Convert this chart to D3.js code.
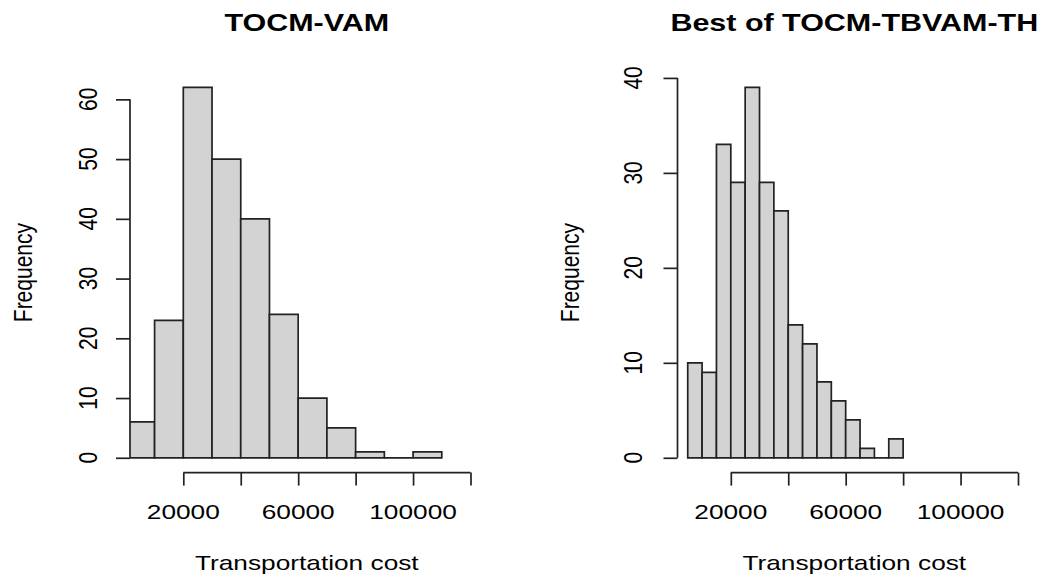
<!DOCTYPE html>
<html>
<head>
<meta charset="utf-8">
<script src="https://cdn.jsdelivr.net/npm/d3@7"></script>
<style>
body { margin: 0; background: #fff; }
text { font-family: "Liberation Sans", Arial, sans-serif; fill: #000; }
</style>
</head>
<body>
<div id="chart"></div>
<script>
// histogram bins
var vamBreaks = [0, 10000, 20000, 30000, 40000, 50000, 60000, 70000, 80000, 90000, 100000, 110000];
var vamCounts = [6, 23, 62, 50, 40, 24, 10, 5, 1, 0, 1];

var tbvamBreaks = [5000, 10000, 15000, 20000, 25000, 30000, 35000, 40000, 45000, 50000,
			55000, 60000, 65000, 70000, 75000, 80000];
var tbvamCounts = [10, 9, 33, 29, 39, 29, 26, 14, 12, 8, 6, 4, 1, 0, 2];

var titles = ["TOCM-VAM", "Best of TOCM-TBVAM-TH"];
var xTitle = "Transportation cost";
var yTitle = "Frequency";

var xTicks = [20000, 40000, 60000, 80000, 100000, 120000];
var xTickLabels = ["20000", "", "60000", "", "100000", ""];
var vamYTicks = [0, 10, 20, 30, 40, 50, 60];
var tbvamYTicks = [0, 10, 20, 30, 40];
var xLimits = [6000, 120000];

var width = 1046, height = 575;
var stretch = 1.25; // picture is wider than it is tall
var ink = "#222";

var svg = d3.select("#chart").append("svg")
	.attr("width", width)
	.attr("height", height);

function drawHistogram(panel, plotLeft, breaks, counts, yTicks, title, yLabelGap){
	var dimensions = {top: 72.6, bottom: 472.6, left: plotLeft, right: plotLeft + 353.6};
	var xSpan = xLimits[1] - xLimits[0];
	var x = d3.scaleLinear()
		.domain([xLimits[0] - 0.04 * xSpan, xLimits[1] + 0.04 * xSpan])
		.range([dimensions.left, dimensions.right]);
	var yMax = d3.max(counts);
	var y = d3.scaleLinear()
		.domain([-0.04 * yMax, 1.04 * yMax])
		.range([dimensions.bottom, dimensions.top]);

	var g = svg.append("g").attr("class", "panel" + panel);

	g.append("clipPath")
		.attr("id", "clip" + panel)
		.append("rect")
		.attr("x", dimensions.left)
		.attr("y", dimensions.top)
		.attr("width", dimensions.right - dimensions.left)
		.attr("height", dimensions.bottom - dimensions.top);

	// bars as closed paths so that empty bins still show a flat line
	g.append("g")
		.attr("clip-path", "url(#clip" + panel + ")")
		.selectAll(".bar")
		.data(counts)
		.enter().append("path")
		.attr("class", "bar")
		.attr("d", function(d, i){
			var x0 = x(breaks[i]), x1 = x(breaks[i + 1]), y0 = y(0), y1 = y(d);
			return "M" + x0 + "," + y0 + "L" + x0 + "," + y1 + "L" + x1 + "," + y1 + "L" + x1 + "," + y0 + "Z";
		})
		.style("fill", "#d3d3d3")
		.style("stroke", ink)
		.style("stroke-width", 1.7);

	// x axis, R style: line only between first and last tick
	var xAxis = g.append("g")
		.attr("transform", "translate(0," + dimensions.bottom + ")")
		.call(d3.axisBottom(x).tickValues(xTicks).tickSize(13).tickSizeOuter(0).tickFormat(""));
	xAxis.select(".domain").remove();
	xAxis.selectAll("line").style("stroke", ink).style("stroke-width", 1.7);
	xAxis.append("line")
		.attr("x1", x(xTicks[0]))
		.attr("x2", x(xTicks[xTicks.length - 1]))
		.style("stroke", ink)
		.style("stroke-width", 1.7);

	g.selectAll(".xLabel")
		.data(xTicks)
		.enter().append("text")
		.attr("class", "xLabel")
		.attr("text-anchor", "middle")
		.attr("font-size", 21)
		.attr("transform", function(d){ return "translate(" + x(d) + ",519) scale(" + stretch + ",1)"; })
		.text(function(d, i){ return xTickLabels[i]; });

	var yAxis = g.append("g")
		.attr("transform", "translate(" + dimensions.left + ",0)")
		.call(d3.axisLeft(y).tickValues(yTicks).tickSize(14).tickSizeOuter(0).tickFormat(""));
	yAxis.select(".domain").remove();
	yAxis.selectAll("line").style("stroke", ink).style("stroke-width", 1.7);
	yAxis.append("line")
		.attr("y1", y(yTicks[0]))
		.attr("y2", y(yTicks[yTicks.length - 1]))
		.style("stroke", ink)
		.style("stroke-width", 1.7);

	g.selectAll(".yLabel")
		.data(yTicks)
		.enter().append("text")
		.attr("class", "yLabel")
		.attr("text-anchor", "middle")
		.attr("font-size", 21)
		.attr("transform", function(d){
			return "translate(" + (dimensions.left - yLabelGap) + "," + y(d) + ") scale(" + stretch + ",1) rotate(-90)";
		})
		.text(function(d){ return d; });

	var midX = (dimensions.left + dimensions.right) / 2;
	var midY = (dimensions.top + dimensions.bottom) / 2;

	g.append("text")
		.attr("text-anchor", "middle")
		.attr("font-size", 24)
		.style("font-weight", "bold")
		.attr("transform", "translate(" + midX + ",30.7) scale(" + (stretch + 0.02) + ",1)")
		.text(title);

	g.append("text")
		.attr("text-anchor", "middle")
		.attr("font-size", 21)
		.attr("transform", "translate(" + midX + ",569.5) scale(" + stretch + ",1)")
		.text(xTitle);

	g.append("text")
		.attr("text-anchor", "middle")
		.attr("font-size", 21)
		.attr("transform", "translate(" + (dimensions.left - 98.5) + "," + midY + ") scale(" + stretch + ",1) rotate(-90)")
		.text(yTitle);
}

drawHistogram(0, 130, vamBreaks, vamCounts, vamYTicks, titles[0], 33.5);
drawHistogram(1, 677.5, tbvamBreaks, tbvamCounts, tbvamYTicks, titles[1], 36);
</script>
</body>
</html>
